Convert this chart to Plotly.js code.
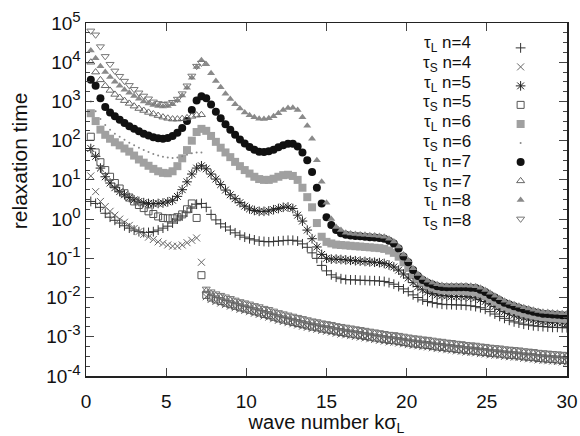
<!DOCTYPE html>
<html>
<head>
<meta charset="utf-8">
<script src="https://cdn.plot.ly/plotly-3.0.1.min.js"></script>
<style>html,body{margin:0;padding:0;background:#fff}#chart{width:580px;height:436px}</style>
</head>
<body>
<div id="chart"></div>
<script>
const k = [0.3,0.6,0.9,1.2,1.5,1.8,2.1,2.4,2.7,3.0,
3.3,3.6,3.9,4.2,4.5,4.8,5.1,5.4,5.7,6.0,
6.3,6.6,6.9,7.2,7.5,7.8,8.1,8.4,8.7,9.0,
9.3,9.6,9.9,10.2,10.5,10.8,11.1,11.4,11.7,12.0,
12.3,12.6,12.9,13.2,13.5,13.8,14.1,14.4,14.7,15.0,
15.3,15.6,15.9,16.2,16.5,16.8,17.1,17.4,17.7,18.0,
18.3,18.6,18.9,19.2,19.5,19.8,20.1,20.4,20.7,21.0,
21.3,21.6,21.9,22.2,22.5,22.8,23.1,23.4,23.7,24.0,
24.3,24.6,24.9,25.2,25.5,25.8,26.1,26.4,26.7,27.0,
27.3,27.6,27.9,28.2,28.5,28.8,29.1,29.4,29.7,30.0];

const tauL4 = [2.82,2.51,2.0,1.41,1.12,0.933,0.794,0.676,0.589,0.525,
0.479,0.457,0.457,0.479,0.525,0.589,0.661,0.794,1.0,1.2,
1.51,1.91,2.4,2.51,
2.0,1.32,0.955,0.759,0.631,0.525,0.447,0.389,0.347,0.316,
0.295,0.275,0.269,0.263,0.269,0.275,0.282,0.288,0.288,0.275,
0.234,0.191,0.138,0.1,0.0661,0.0479,
0.038,0.0331,0.0302,0.0288,0.0282,0.0282,0.0275,0.0275,0.0269,0.0269,
0.0263,0.0257,0.024,0.0219,0.0191,0.0166,0.0141,0.0117,0.01,0.00871,
0.00794,0.00741,0.00708,0.00676,0.00661,0.00661,0.00646,0.00646,0.00631,0.00617,
0.00589,0.0055,0.00501,0.00437,0.0038,0.00331,0.00295,0.00263,0.0024,0.00224,
0.00209,0.002,0.00191,0.00186,0.00182,0.00178,0.00174,0.00174,0.0017,0.0017];

const tauS4 = [12.6,5.01,2.82,2.09,1.58,1.26,1.0,0.832,0.692,0.575,
0.479,0.407,0.347,0.302,0.263,0.24,0.219,0.204,0.204,0.219,
0.251,0.288,0.331,0.0794,
0.0105,0.00891,0.00794,0.00724,0.00661,0.00603,0.0055,0.00501,0.00468,0.00437,
0.00398,0.00372,0.00339,0.00316,0.00288,0.00263,0.00245,0.00229,0.00214,0.002,
0.00186,0.00174,0.00162,0.00155,0.00145,0.00138,0.00132,0.00123,0.00117,0.00112,
0.00107,0.00102,0.000977,0.000933,0.000891,0.000851,0.000813,0.000776,0.000741,0.000724,
0.000692,0.000661,0.000631,0.000603,0.000589,0.000562,0.00055,0.000525,0.000501,0.00049,
0.000468,0.000457,0.000437,0.000427,0.000407,0.000398,0.000389,0.000372,0.000363,0.000347,
0.000339,0.000331,0.000316,0.000309,0.000302,0.000295,0.000282,0.000275,0.000269,0.000257,
0.000251,0.000245,0.00024,0.000234,0.000229,0.000224];

const tauL5 = [63.1,39.8,20.0,12.0,8.32,6.31,5.01,4.17,3.55,3.09,
2.82,2.63,2.51,2.45,2.51,2.57,2.75,3.02,3.8,5.62,
8.91,14.1,20.0,22.9,
19.1,14.1,10.5,7.59,5.5,4.17,3.31,2.63,2.14,1.82,
1.66,1.58,1.58,1.62,1.74,1.86,2.0,2.04,1.86,1.26,
0.891,0.525,0.316,0.195,0.126,0.1,
0.0955,0.0955,0.0933,0.0912,0.0891,0.0871,0.0851,0.0832,0.0813,0.0794,
0.0776,0.0741,0.0676,0.0603,0.0501,0.0398,0.0316,0.024,0.0191,0.0158,
0.0138,0.0126,0.0117,0.0112,0.011,0.0107,0.0107,0.0107,0.0105,0.0102,
0.00977,0.00891,0.00794,0.00692,0.00589,0.00501,0.00437,0.00389,0.00355,0.00324,
0.00302,0.00282,0.00269,0.00257,0.00245,0.0024,0.00234,0.00229,0.00229,0.00224];

const tauS5 = [126,50.1,28.2,17.8,12.0,8.32,6.03,4.57,3.55,2.82,
2.29,1.91,1.58,1.35,1.17,1.07,1.05,1.05,1.12,1.32,
1.78,2.51,1.07,0.0372,
0.0117,0.01,0.00891,0.00813,0.00741,0.00676,0.00617,0.00562,0.00525,0.0049,
0.00447,0.00417,0.0038,0.00355,0.00324,0.00295,0.00275,0.00257,0.0024,0.00224,
0.00209,0.00195,0.00182,0.00174,0.00162,0.00155,0.00148,0.00138,0.00132,0.00126,
0.0012,0.00115,0.0011,0.00105,0.001,0.000955,0.000912,0.000871,0.000832,0.000813,
0.000776,0.000741,0.000708,0.000676,0.000661,0.000631,0.000617,0.000589,0.000562,0.00055,
0.000525,0.000513,0.00049,0.000479,0.000457,0.000447,0.000437,0.000417,0.000407,0.000389,
0.00038,0.000372,0.000355,0.000347,0.000339,0.000331,0.000316,0.000309,0.000302,0.000288,
0.000282,0.000275,0.000269,0.000263,0.000257,0.000251];

const tauL6 = [501,316,191,141,112,91.2,75.9,63.1,52.5,41.7,
33.1,27.5,22.9,19.1,16.6,15.1,14.8,16.6,22.4,35.5,
57.5,100,166,200,
178,132,93.3,66.1,50.1,38.0,28.8,22.4,17.8,14.5,
12.0,10.5,10,10,10.7,12.0,13.2,13.5,12.6,10,
6.31,3.63,2.0,0.794,0.355,0.263,
0.24,0.224,0.219,0.214,0.209,0.204,0.2,0.195,0.191,0.186,
0.182,0.174,0.158,0.138,0.11,0.0794,0.0575,0.0398,0.0302,0.024,
0.0204,0.0182,0.0166,0.0158,0.0155,0.0151,0.0151,0.0151,0.0148,0.0145,
0.0138,0.0126,0.011,0.00933,0.00794,0.00676,0.00589,0.00525,0.00479,0.00437,
0.00398,0.00372,0.00347,0.00331,0.00316,0.00309,0.00302,0.00295,0.00288,0.00288];

const tauS6 = [1000,562,355,251,191,151,126,105,89.1,75.9,
66.1,57.5,51.3,45.7,41.7,38.9,37.2,36.3,37.2,39.8,
43.7,47.9,50.1,50.1,
0.0132,0.0112,0.01,0.00912,0.00832,0.00759,0.00692,0.00631,0.00589,0.0055,
0.00501,0.00468,0.00427,0.00398,0.00363,0.00331,0.00309,0.00288,0.00269,0.00251,
0.00234,0.00219,0.00204,0.00195,0.00182,0.00174,0.00166,0.00155,0.00148,0.00141,
0.00135,0.00129,0.00123,0.00117,0.00112,0.00107,0.00102,0.000977,0.000933,0.000912,
0.000871,0.000832,0.000794,0.000759,0.000741,0.000708,0.000692,0.000661,0.000631,0.000617,
0.000589,0.000575,0.00055,0.000537,0.000513,0.000501,0.00049,0.000468,0.000457,0.000437,
0.000427,0.000417,0.000398,0.000389,0.00038,0.000372,0.000355,0.000347,0.000339,0.000324,
0.000316,0.000309,0.000302,0.000295,0.000288,0.000282];

const tauL7 = [3550,2510,1200,724,525,417,339,282,234,200,
174,151,135,123,115,112,117,132,158,209,
316,603,1050,1350,
1200,832,550,372,263,191,141,107,85,69,
59,52.5,51.3,53.7,58.9,67.6,75.9,83.2,83.2,70.8,
50.1,31.6,15.8,6.31,2.51,1.12,
0.708,0.525,0.437,0.398,0.38,0.372,0.363,0.355,0.347,0.339,
0.331,0.316,0.282,0.24,0.178,0.112,0.0794,0.0501,0.0355,0.0282,
0.024,0.0214,0.0195,0.0186,0.0182,0.0182,0.0182,0.0182,0.0182,0.0178,
0.0174,0.0158,0.0138,0.0117,0.01,0.00851,0.00741,0.00661,0.00603,0.0055,
0.00501,0.00468,0.00437,0.00407,0.00389,0.0038,0.00372,0.00363,0.00355,0.00355];

const tauS7 = [10000,5600,3550,2510,1910,1510,1260,1050,891,759,
661,589,525,479,437,398,372,355,355,363,
380,417,447,457,
0.0148,0.0126,0.0112,0.0102,0.00933,0.00851,0.00776,0.00708,0.00661,0.00617,
0.00562,0.00525,0.00479,0.00447,0.00407,0.00372,0.00347,0.00324,0.00302,0.00282,
0.00263,0.00245,0.00229,0.00219,0.00204,0.00195,0.00186,0.00174,0.00166,0.00158,
0.00151,0.00145,0.00138,0.00132,0.00126,0.0012,0.00115,0.0011,0.00105,0.00102,
0.000977,0.000933,0.000891,0.000851,0.000832,0.000794,0.000776,0.000741,0.000708,0.000692,
0.000661,0.000646,0.000617,0.000603,0.000575,0.000562,0.00055,0.000525,0.000513,0.00049,
0.000479,0.000468,0.000447,0.000437,0.000427,0.000417,0.000398,0.000389,0.00038,0.000363,
0.000355,0.000347,0.000339,0.000331,0.000324,0.000316];

const tauL8 = [20000,12600,7900,5600,4200,3200,2500,2000,1660,1380,
1170,1000,890,810,760,740,760,850,1050,1410,
2240,4000,7600,11200,
8900,5200,3300,2300,1580,1150,850,660,525,447,
398,363,355,372,417,501,603,676,692,603,
398,240,112,31.6,8.9,2.63,
1.0,0.63,0.525,0.447,0.427,0.417,0.407,0.398,0.389,0.38,
0.372,0.355,0.316,0.269,0.2,0.126,0.0891,0.0562,0.0398,0.0316,
0.0269,0.024,0.0219,0.0209,0.0204,0.0204,0.0204,0.0204,0.0204,0.02,
0.0195,0.0178,0.0155,0.0132,0.0112,0.00955,0.00832,0.00741,0.00676,0.00617,
0.00562,0.00525,0.0049,0.00457,0.00437,0.00427,0.00417,0.00407,0.00398,0.00398];

const tauS8 = [63000,50000,25000,14100,8900,6000,4400,3300,2570,2040,
1660,1380,1170,977,891,851,871,955,1150,1580,
2510,4470,7940,9550,
0.0166,0.0141,0.0126,0.0115,0.0105,0.00955,0.00871,0.00794,0.00741,0.00692,
0.00631,0.00589,0.00537,0.00501,0.00457,0.00417,0.00389,0.00363,0.00339,0.00316,
0.00295,0.00275,0.00257,0.00245,0.00229,0.00219,0.00209,0.00195,0.00186,0.00178,
0.0017,0.00162,0.00155,0.00148,0.00141,0.00135,0.00129,0.00123,0.00117,0.00115,
0.0011,0.00105,0.001,0.000955,0.000933,0.000891,0.000871,0.000832,0.000794,0.000776,
0.000741,0.000724,0.000692,0.000676,0.000646,0.000631,0.000617,0.000589,0.000575,0.00055,
0.000537,0.000525,0.000501,0.00049,0.000479,0.000468,0.000447,0.000437,0.000427,0.000407,
0.000398,0.000389,0.00038,0.000372,0.000363,0.000355];

const seriesLabels = ['τ<sub>L</sub> n=4','τ<sub>S</sub> n=4','τ<sub>L</sub> n=5','τ<sub>S</sub> n=5',
  'τ<sub>L</sub> n=6','τ<sub>S</sub> n=6','τ<sub>L</sub> n=7','τ<sub>S</sub> n=7',
  'τ<sub>L</sub> n=8','τ<sub>S</sub> n=8'];
const yTickVals = [1e-4,1e-3,1e-2,1e-1,1,10,100,1e3,1e4,1e5];
const yTickText = ['-4','-3','-2','-1','0','1','2','3','4','5']
  .map(e => '10<sup><span style="font-size:15px">' + e + '</span></sup>');
const xTickVals = [0,5,10,15,20,25,30];

const seriesData = [tauL4, tauS4, tauL5, tauS5, tauL6, tauS6, tauL7, tauS7, tauL8, tauS8];
const styles = [
  {symbol:'cross-thin-open', size:7, color:'#333', lw:1},
  {symbol:'x-thin-open', size:7, color:'#666', lw:1},
  {symbol:'asterisk-open', size:8, color:'#222', lw:1},
  {symbol:'square-open', size:7, color:'#555', lw:1},
  {symbol:'square', size:8, color:'#a0a0a0', lw:0},
  {symbol:'circle', size:2, color:'#888', lw:0},
  {symbol:'circle', size:8, color:'#111', lw:0},
  {symbol:'triangle-up-open', size:7, color:'#666', lw:1},
  {symbol:'triangle-up', size:7, color:'#8a8a8a', lw:0},
  {symbol:'triangle-down-open', size:7, color:'#777', lw:1}
];
const FONT = 'Liberation Sans, Arial, Helvetica, sans-serif';

const traces = seriesData.map((y, i) => ({
  x: k, y: y, type: 'scatter', mode: 'markers', name: ' ',
  hoverinfo: 'skip',
  marker: {symbol: styles[i].symbol, size: styles[i].size, color: styles[i].color,
           line: {width: styles[i].lw, color: styles[i].color}}
}));

// minor ticks every quarter decade (gnuplot style)
const minorVals = [];
for (let d = -4; d < 5; d++) for (let q = 1; q < 4; q++) minorVals.push(Math.pow(10, d + q / 4));

const rowY = [0.9405,0.8844,0.8283,0.7722,0.7161,0.6601,0.6040,0.5479,0.4918,0.4357];
const annotations = seriesLabels.map((t, i) => ({
  text: t, xref: 'paper', yref: 'paper', x: 0.8046, y: rowY[i],
  xanchor: 'right', yanchor: 'middle', showarrow: false,
  font: {family: FONT, size: 17, color: '#111'}
}));
annotations.push({
  text: 'relaxation time', xref: 'paper', yref: 'paper', x: -0.139, y: 0.609,
  xanchor: 'center', yanchor: 'middle', textangle: -90, showarrow: false,
  font: {family: FONT, size: 21, color: '#111'}
});

const layout = {
  width: 580, height: 436,
  margin: {l: 86, r: 13, t: 23, b: 60},
  paper_bgcolor: '#fff', plot_bgcolor: '#fff',
  font: {family: FONT, size: 19, color: '#111'},
  showlegend: true,
  legend: {x: 0.862, y: 0.9706, xanchor: 'left', yanchor: 'top', bgcolor: 'rgba(0,0,0,0)',
           font: {size: 12}, tracegroupgap: 0, itemwidth: 30},
  xaxis: {range: [0, 30], tickvals: xTickVals, ticks: 'inside', ticklen: 8,
          showline: true, linecolor: '#222', linewidth: 1.5, mirror: 'ticks',
          showgrid: false, zeroline: false, tickfont: {size: 19}, ticklabelstandoff: 8,
          title: {text: 'wave number kσ<sub>L</sub>', font: {size: 20}, standoff: 2}},
  yaxis: {type: 'log', range: [-4, 5], tickvals: yTickVals, ticktext: yTickText,
          ticks: 'inside', ticklen: 8,
          showline: true, linecolor: '#222', linewidth: 1.5, mirror: 'ticks',
          showgrid: false, zeroline: false, tickfont: {size: 19}, ticklabelstandoff: 0,
          minor: {ticks: 'inside', ticklen: 4, tickvals: minorVals, showgrid: false}},
  annotations: annotations
};

Plotly.newPlot('chart', traces, layout, {staticPlot: true, displayModeBar: false});
</script>
</body>
</html>
